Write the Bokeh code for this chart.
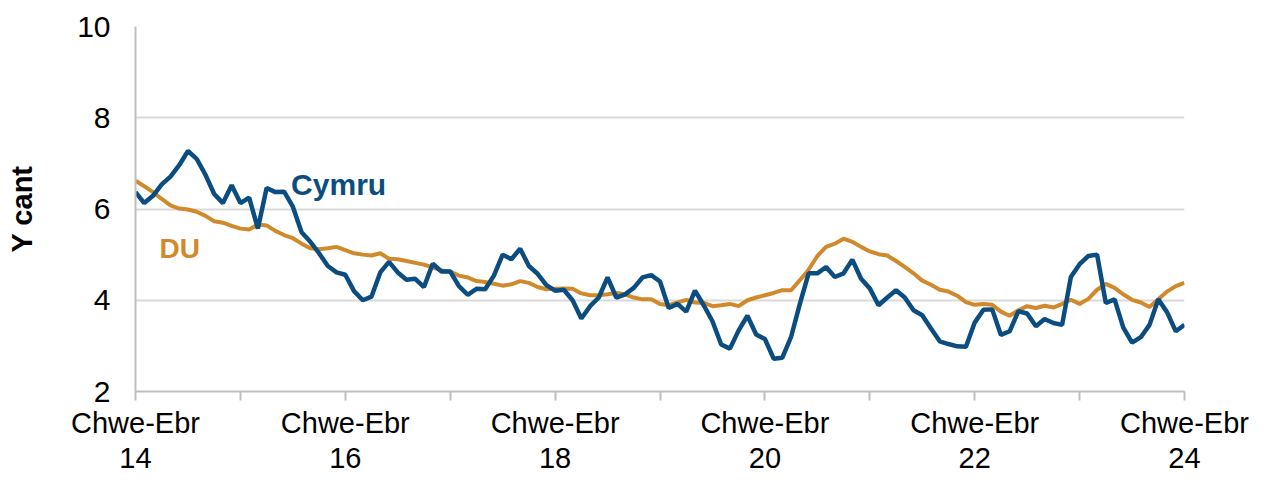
from bokeh.plotting import figure
from bokeh.models import FixedTicker, Range1d, Label
from bokeh.embed import file_html
from bokeh.resources import INLINE

# Rolling three-month periods, Feb-Apr 2014 .. Feb-Apr 2024 (index of month)
months = list(range(121))

cymru = [6.37, 6.13, 6.29, 6.54, 6.71, 6.96, 7.27, 7.10, 6.75, 6.33,
         6.13, 6.52, 6.13, 6.25, 5.57, 6.46, 6.37, 6.38, 6.05, 5.49,
         5.28, 5.03, 4.75, 4.61, 4.56, 4.20, 4.00, 4.08, 4.61, 4.84,
         4.61, 4.45, 4.47, 4.29, 4.80, 4.63, 4.63, 4.31, 4.12, 4.25,
         4.24, 4.54, 5.00, 4.90, 5.13, 4.75, 4.58, 4.33, 4.21, 4.23,
         4.00, 3.60, 3.87, 4.06, 4.50, 4.06, 4.13, 4.27, 4.50, 4.55,
         4.41, 3.83, 3.92, 3.75, 4.21, 3.89, 3.54, 3.03, 2.94, 3.34,
         3.66, 3.25, 3.15, 2.72, 2.74, 3.20, 3.92, 4.59, 4.59, 4.73,
         4.51, 4.59, 4.89, 4.47, 4.26, 3.89, 4.06, 4.22, 4.06, 3.78,
         3.67, 3.38, 3.10, 3.04, 2.99, 2.98, 3.51, 3.79, 3.80, 3.24,
         3.32, 3.76, 3.71, 3.43, 3.59, 3.50, 3.46, 4.51, 4.79, 4.97,
         5.00, 3.94, 4.02, 3.40, 3.07, 3.19, 3.46, 4.02, 3.74, 3.32,
         3.46]

du = [6.62, 6.50, 6.37, 6.22, 6.08, 6.01, 5.99, 5.94, 5.85, 5.73,
      5.70, 5.63, 5.57, 5.55, 5.66, 5.64, 5.52, 5.43, 5.36, 5.24,
      5.14, 5.12, 5.14, 5.17, 5.10, 5.03, 5.00, 4.98, 5.03, 4.91,
      4.90, 4.86, 4.82, 4.78, 4.72, 4.65, 4.63, 4.54, 4.50, 4.42,
      4.40, 4.36, 4.32, 4.35, 4.42, 4.38, 4.29, 4.24, 4.25, 4.26,
      4.25, 4.15, 4.11, 4.11, 4.13, 4.16, 4.13, 4.06, 4.02, 4.02,
      3.92, 3.89, 3.95, 4.01, 3.95, 3.94, 3.87, 3.89, 3.92, 3.87,
      4.00, 4.06, 4.11, 4.16, 4.22, 4.22, 4.44, 4.67, 4.97, 5.17,
      5.24, 5.35, 5.28, 5.17, 5.07, 5.01, 4.98, 4.86, 4.73, 4.59,
      4.43, 4.34, 4.23, 4.19, 4.10, 3.96, 3.90, 3.92, 3.90, 3.75,
      3.66, 3.78, 3.87, 3.83, 3.88, 3.84, 3.92, 4.01, 3.92, 4.03,
      4.23, 4.36, 4.27, 4.13, 4.01, 3.95, 3.85, 4.02, 4.19, 4.31,
      4.38]

tick_positions = [0, 12, 24, 36, 48, 60, 72, 84, 96, 108, 120]
tick_labels = ["Chwe-Ebr\n14", "", "Chwe-Ebr\n16", "", "Chwe-Ebr\n18", "",
               "Chwe-Ebr\n20", "", "Chwe-Ebr\n22", "", "Chwe-Ebr\n24"]
y_ticks = [2, 4, 6, 8, 10]

BLUE = "#0b4d80"
ORANGE = "#d18a2b"
FONT = "Liberation Sans"

p = figure(width=1253, height=476, output_backend="svg", toolbar_location=None,
           x_range=Range1d(0, 120), y_range=Range1d(2, 10),
           min_border_left=135, min_border_right=69, min_border_top=26,
           min_border_bottom=70)
p.outline_line_color = None
p.background_fill_color = "white"

p.line(months, du, line_color=ORANGE, line_width=4)
p.line(months, cymru, line_color=BLUE, line_width=4.5)

# x axis
xa = p.xaxis[0]
xa.ticker = FixedTicker(ticks=tick_positions)
xa.major_label_overrides = {t: l for t, l in zip(tick_positions, tick_labels)}
xa.minor_tick_line_color = None
xa.major_tick_in = 0
xa.major_tick_out = 9
xa.major_tick_line_color = "#bfbfbf"
xa.major_tick_line_width = 2
xa.axis_line_color = "#bfbfbf"
xa.axis_line_width = 2
xa.major_label_text_font = FONT
xa.major_label_text_font_size = "29px"
xa.major_label_text_color = "black"
xa.major_label_text_line_height = 1.1
xa.major_label_standoff = 6

# y axis
ya = p.yaxis[0]
ya.ticker = FixedTicker(ticks=y_ticks)
ya.minor_tick_line_color = None
ya.major_tick_in = 0
ya.major_tick_out = 0
ya.axis_line_color = "#bfbfbf"
ya.axis_line_width = 2
ya.major_label_text_font = FONT
ya.major_label_text_font_size = "30px"
ya.major_label_text_color = "black"
ya.major_label_standoff = 25
ya.axis_label = "Y cant"
ya.axis_label_text_font = FONT
ya.axis_label_text_font_style = "bold"
ya.axis_label_text_font_size = "29px"
ya.axis_label_text_color = "black"
ya.axis_label_standoff = 36

p.xgrid.grid_line_color = None
p.ygrid.ticker = FixedTicker(ticks=[4, 6, 8, 10])
p.ygrid.grid_line_color = "#d9d9d9"
p.ygrid.grid_line_width = 2

p.add_layout(Label(x=17.8, y=6.54, text="Cymru", text_color=BLUE,
                   text_font=FONT, text_font_style="bold",
                   text_font_size="30px", text_baseline="alphabetic"))
p.add_layout(Label(x=2.75, y=5.14, text="DU", text_color=ORANGE,
                   text_font=FONT, text_font_style="bold",
                   text_font_size="28px", text_baseline="alphabetic"))

open("out.html", "w").write(file_html(p, INLINE))
